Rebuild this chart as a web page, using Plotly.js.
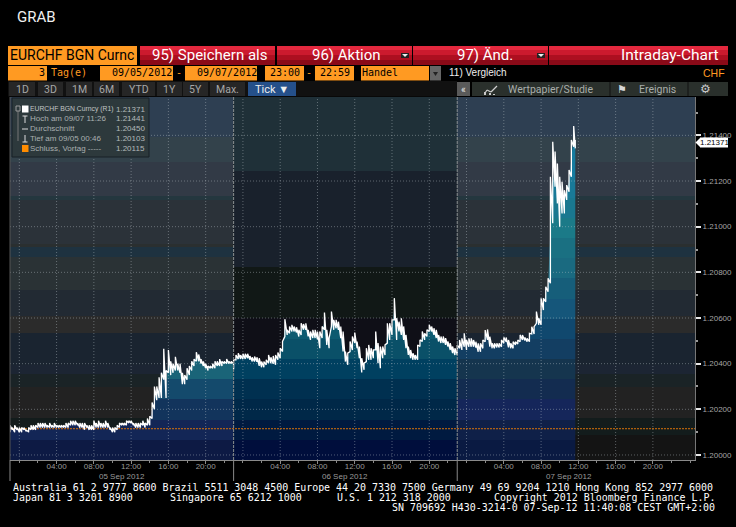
<!DOCTYPE html>
<html><head><meta charset="utf-8">
<script src="https://cdn.plot.ly/plotly-3.0.1.min.js"></script>
<style>html,body{margin:0;padding:0;background:#000}</style></head>
<body><div id="chart" style="width:736px;height:527px"></div>
<script>
const day1Hours=[0,.25,.5,.75,1,1.25,1.5,1.75,2,2.25,2.5,2.75,3,3.25,3.5,3.75,4,4.25,4.5,4.75,5,5.25,5.5,5.75,6,6.25,6.5,6.75,7,7.25,7.5,7.75,8,8.25,8.5,8.75,9,9.25,9.5,9.75,10,10.25,10.5,10.75,11,11.25,11.5,11.75,12,12.25,12.5,12.75,13,13.25,13.5,13.75,14,14.25,14.5,14.75,15,15.25,15.5,15.75,16,16.25,16.5,16.75,17,17.25,17.5,17.75,18,18.25,18.5,18.75,19,19.25,19.5,19.75,20,20.25,20.5,20.75,21,21.25,21.5,21.75,22,22.25,22.5,22.75,23,23.25,23.5,23.75,24];
const day1High=[1.2013,1.2012,1.2013,1.2012,1.2012,1.2012,1.2012,1.2011,1.2012,1.2013,1.2013,1.2013,1.2014,1.2014,1.2014,1.2014,1.2013,1.2014,1.2013,1.2014,1.2013,1.2013,1.2013,1.2013,1.2014,1.2014,1.2015,1.2015,1.2015,1.2014,1.2014,1.2014,1.2014,1.2013,1.2013,1.2013,1.2015,1.2014,1.2015,1.2014,1.2014,1.2015,1.2014,1.2012,1.2012,1.2012,1.2013,1.2014,1.2014,1.2014,1.2015,1.2015,1.2015,1.2014,1.2014,1.2014,1.2014,1.2015,1.2014,1.2016,1.2017,1.2023,1.2030,1.2030,1.2034,1.2036,1.20465,1.2037,1.2046,1.2041,1.2040,1.2043,1.2040,1.2040,1.2036,1.2035,1.2038,1.2039,1.2041,1.2042,1.2045,1.2044,1.2042,1.2041,1.2040,1.2039,1.2039,1.2040,1.2041,1.2041,1.2042,1.2041,1.2041,1.2042,1.2041,1.2041,1.2041];
const day1Low=[1.2010,1.2011,1.2010,1.2011,1.2010,1.2010,1.2011,1.20103,1.2010,1.2011,1.2011,1.2011,1.2012,1.2012,1.2012,1.2012,1.2012,1.2012,1.2012,1.2012,1.2012,1.2012,1.2012,1.2012,1.2012,1.2012,1.2013,1.2013,1.2013,1.2013,1.2012,1.2012,1.2011,1.2012,1.2011,1.2011,1.2011,1.2012,1.2012,1.2012,1.2012,1.2012,1.2012,1.2011,1.2010,1.2010,1.2011,1.2012,1.2013,1.2013,1.2013,1.2014,1.2014,1.2013,1.2012,1.2012,1.2012,1.2013,1.2012,1.2013,1.2013,1.2016,1.2020,1.2024,1.2025,1.2025,1.2033,1.2025,1.2036,1.2035,1.2036,1.2037,1.2037,1.2036,1.2031,1.2031,1.2033,1.2035,1.2037,1.2039,1.2041,1.2041,1.2040,1.2039,1.2038,1.2037,1.2038,1.2038,1.2038,1.2039,1.2039,1.2039,1.2040,1.2040,1.2040,1.2040,1.2040];
const day2Hours=[24,24.25,24.5,24.75,25,25.25,25.5,25.75,26,26.25,26.5,26.75,27,27.25,27.5,27.75,28,28.25,28.5,28.75,29,29.25,29.5,29.75,30,30.25,30.5,30.75,31,31.25,31.5,31.75,32,32.25,32.5,32.75,33,33.25,33.5,33.75,34,34.25,34.5,34.75,35,35.25,35.5,35.75,36,36.25,36.5,36.75,37,37.25,37.5,37.75,38,38.25,38.5,38.75,39,39.25,39.5,39.75,40,40.25,40.5,40.75,41,41.25,41.5,41.75,42,42.25,42.5,42.75,43,43.25,43.5,43.75,44,44.25,44.5,44.75,45,45.25,45.5,45.75,46,46.25,46.5,46.75,47,47.25,47.5,47.75,48];
const day2High=[1.20417,1.20438,1.20446,1.20438,1.20443,1.20443,1.20443,1.20434,1.20428,1.20431,1.20428,1.20424,1.20409,1.20409,1.20417,1.20438,1.20428,1.20434,1.20438,1.20449,1.20468,1.20497,1.20595,1.20548,1.20563,1.2057,1.20563,1.2056,1.20548,1.20577,1.20574,1.20577,1.20548,1.20541,1.20548,1.20548,1.20541,1.20541,1.20563,1.20624,1.20548,1.20512,1.20628,1.20592,1.20592,1.20584,1.20563,1.20541,1.20453,1.20446,1.20497,1.20519,1.20536,1.20497,1.20475,1.20424,1.20402,1.20468,1.20482,1.20468,1.2046,1.20541,1.2049,1.20475,1.20475,1.20482,1.20577,1.20577,1.20592,1.20687,1.20599,1.20584,1.20599,1.20563,1.20526,1.20475,1.2046,1.20446,1.20438,1.20482,1.20504,1.20541,1.20533,1.20548,1.2057,1.20563,1.20555,1.20548,1.20526,1.20519,1.20519,1.20512,1.20497,1.2049,1.20475,1.20468,1.20468];
const day2Low=[1.20376,1.20417,1.2042,1.2042,1.2042,1.2042,1.20424,1.20417,1.20409,1.20409,1.20408,1.2039,1.20384,1.20384,1.20395,1.20402,1.20402,1.20399,1.20395,1.20417,1.20424,1.20453,1.20519,1.20526,1.20533,1.20541,1.20541,1.20536,1.20519,1.20526,1.20548,1.20548,1.20519,1.20504,1.20512,1.20512,1.20507,1.20468,1.20512,1.20548,1.20482,1.20468,1.20563,1.20548,1.20555,1.20548,1.20512,1.20453,1.20409,1.20395,1.20453,1.2046,1.2049,1.20468,1.20424,1.20361,1.20373,1.20409,1.20417,1.20417,1.20424,1.2046,1.20402,1.2038,1.20424,1.20438,1.2049,1.20504,1.20526,1.20592,1.20504,1.20541,1.20526,1.20504,1.20468,1.20438,1.20424,1.20417,1.20417,1.20417,1.20475,1.20497,1.20504,1.20519,1.20541,1.20541,1.20526,1.20512,1.20497,1.2049,1.2049,1.20482,1.20475,1.2046,1.20446,1.20438,1.20438];
const day3Hours=[48,48.25,48.5,48.75,49,49.25,49.5,49.75,50,50.25,50.5,50.75,51,51.25,51.5,51.75,52,52.25,52.5,52.75,53,53.25,53.5,53.75,54,54.25,54.5,54.75,55,55.25,55.5,55.75,56,56.25,56.5,56.75,57,57.25,57.5,57.75,58,58.25,58.5,58.75,59,59.25,59.5,59.75,60,60.25,60.5,60.67];
const day3High=[1.20482,1.20504,1.20511,1.20533,1.20504,1.20511,1.20511,1.20504,1.20496,1.20489,1.20489,1.20504,1.20547,1.2055,1.20518,1.20489,1.20489,1.20489,1.20489,1.20504,1.20515,1.20515,1.20504,1.20489,1.20496,1.20496,1.20504,1.20526,1.20526,1.20515,1.20511,1.20533,1.20562,1.20562,1.20628,1.20599,1.20686,1.20686,1.20737,1.20774,1.21219,1.21372,1.21329,1.21277,1.21219,1.21197,1.2116,1.21182,1.21248,1.2138,1.21441,1.2138];
const day3Low=[1.20438,1.20467,1.2046,1.20474,1.2046,1.20474,1.20474,1.20474,1.20471,1.20452,1.20452,1.20467,1.20496,1.20504,1.20474,1.20467,1.20467,1.20471,1.20471,1.20474,1.20489,1.20496,1.20471,1.20467,1.20467,1.20482,1.20486,1.20496,1.20504,1.20501,1.20496,1.20496,1.2053,1.2053,1.20577,1.2057,1.2057,1.20635,1.20671,1.20715,1.20752,1.21015,1.21175,1.21102,1.21,1.21058,1.21058,1.21117,1.21153,1.21219,1.2135,1.21343];
const previousClose=1.20115, lastPrice=1.21371;
const labelHours=[5,9,13,17,21,29,33,37,41,45,53,57,61,65,69];
const labelTexts=["04:00","08:00","12:00","16:00","20:00","04:00","08:00","12:00","16:00","20:00","04:00","08:00","12:00","16:00","20:00"];
const minorHours=[1,3,7,11,15,19,23,25,27,31,35,39,43,47,49,51,55,59,63,67,71,73];
const gridHours=[1,5,9,13,17,21,25,29,33,37,41,45,49,53,57,61,65,69];
const dayStarts=[0,24,48];
const gridPrices=[1.200,1.202,1.204,1.206,1.208,1.210,1.212,1.214];
const dateLabels=[["05 Sep 2012",122],["06 Sep 2012",345],["07 Sep 2012",569]];
const legendRows=[["EURCHF BGN Curncy (R1)","1.21371"],["Hoch am 09/07 11:26","1.21441"],["Durchschnitt","1.20450"],["Tief am 09/05 00:46","1.20103"],["Schluss, Vortag -----","1.20115"]];
const tabs=[["1D",9,35],["3D",38,63],["1M",66,92],["6M",94,119],["YTD",122,155],["1Y",157,182],["5Y",183,208],["Max.",210,245]];
const stripesOuter=[[97,137,"#2e3f52"],[137,162,"#33424b"],[162,196,"#323a46"],[196,200,"#24373f"],[200,244,"#2b3239"],[244,247,"#2a2f30"],[247,257,"#1e3240"],[257,290,"#2a3235"],[290,316,"#222a33"],[316,333,"#2b2b2b"],[333,365,"#1a2430"],[365,374,"#1c2533"],[374,387,"#1a2326"],[387,418,"#222222"],[418,435,"#131c1c"],[435,460,"#141414"]];
const stripesMiddle=[[97,171,"#1f3038"],[171,267,"#19212c"],[267,318,"#111816"],[318,460,"#0f0f17"]];
const fillDay1=["#0d1a44","#132656","#12345c","#144a6c","#1a6478","#1c6c80","#1c6c80"];
const fillDay2=["#000e3c","#001a40","#002848","#003050","#004060","#0a5068","#0d5a70"];
const fillDay3=["#0a1a42","#0f2048","#15265a","#132c50","#15354e","#133e62","#10486e","#15567a","#165e7a","#1a6a80","#1a7082","#1b7a88","#1a7890","#197a98","#157ca0","#157ca0","#157ca0","#157ca0"];

const L=10,R=695,T=97,B=460;
const X=p=>(p-L)/(R-L), Y=p=>(B-p)/(B-T);
const yMin=1.19978,yMax=1.21568,SANS="Liberation Sans, sans-serif",MONO="DejaVu Sans Mono, monospace";
function mid(h,l){return h.map((v,i)=>(v+l[i])/2);}
function steps(cols){const s=[];const n=18;for(let i=0;i<n;i++){const c=cols[Math.min(i,cols.length-1)];s.push([i/n,c],[(i+1)/n,c]);}return s;}
function fillTrace(x,h,l,cols){return {x,y:mid(h,l),type:'scatter',mode:'lines',line:{width:0},fill:'tozeroy',hoverinfo:'skip',showlegend:false,fillgradient:{type:'vertical',colorscale:steps(cols),start:yMin,stop:yMax}};}
function zig(x,h,l){const xs=[],ys=[];x.forEach((t,i)=>{xs.push(t,t);ys.push(l[i],h[i]);});return [xs,ys];}
const [zx1,zy1]=zig(day1Hours,day1High,day1Low),[zx2,zy2]=zig(day2Hours,day2High,day2Low),[zx3,zy3]=zig(day3Hours,day3High,day3Low);
const gx=[],gy=[];
gridHours.forEach(t=>{gx.push(t,t,null);gy.push(yMin,yMax,null);});
gridPrices.forEach(p=>{gx.push(0,73.52,null);gy.push(p,p,null);});
const traces=[
 fillTrace(day1Hours,day1High,day1Low,fillDay1),
 fillTrace(day2Hours,day2High,day2Low,fillDay2),
 fillTrace(day3Hours,day3High,day3Low,fillDay3),
 {x:gx,y:gy,type:'scatter',mode:'lines',line:{color:'rgba(190,200,205,.42)',width:1,dash:'1px 2px'},hoverinfo:'skip',showlegend:false},
 {x:[0,73.52],y:[previousClose,previousClose],type:'scatter',mode:'lines',line:{color:'#d9730a',width:1,dash:'2px 1px'},hoverinfo:'skip',showlegend:false},
 {x:zx1.concat(zx2,zx3),y:zy1.concat(zy2,zy3),type:'scatter',mode:'lines',line:{color:'#ffffff',width:1.3},name:'EURCHF',showlegend:false}
];
const shapes=[],ann=[];
function rect(x0,x1,y0,y1,c,layer,lc){shapes.push({type:'rect',xref:'paper',yref:'paper',x0:X(x0),x1:X(x1),y0:Y(y1),y1:Y(y0),fillcolor:c,line:{width:lc?1:0,color:lc||c},layer:layer||'above'});}
function seg(x0,y0,x1,y1,c,w,d){shapes.push({type:'line',xref:'paper',yref:'paper',x0:X(x0),x1:X(x1),y0:Y(y0),y1:Y(y1),line:{color:c,width:w||1,dash:d||'solid'},layer:'above'});}
function tri(a,b,c,col){const P=q=>X(q[0])+' '+Y(q[1]);shapes.push({type:'path',xref:'paper',yref:'paper',path:'M'+P(a)+' L'+P(b)+' L'+P(c)+' Z',fillcolor:col,line:{width:0},layer:'above'});}
function note(x,y,t,size,color,anchor,fam){ann.push({xref:'paper',yref:'paper',x:X(x),y:Y(y),text:t,showarrow:false,xanchor:anchor||'left',yanchor:'middle',font:{size,color,family:fam||SANS},borderpad:0,borderwidth:0});}
stripesOuter.forEach(s=>{rect(10,233.5,s[0],s[1],s[2],'below');rect(457,695,s[0],s[1],s[2],'below');});
stripesMiddle.forEach(s=>rect(233.5,457,s[0],s[1],s[2],'below'));
dayStarts.forEach((h,i)=>{const p=L+h*(R-L)/73.52;seg(p,97,p,460,i==0?'#555':'#8a8f90',1,i==0?'solid':'3px 1px');seg(p,460,p,481,'#8a8a8a',1);});
dateLabels.forEach(d=>note(d[1],476,d[0],8,'#9a9a9a','center'));
note(17,17.5,'GRAB',15,'#f0f0f0','left','Roboto');
rect(8,137,46,65,'#ff9a22');note(10,55.5,'EURCHF BGN Curnc',14,'#000','left','Roboto');
[[140,275],[277,412],[413,548],[549,728]].forEach(b=>{rect(b[0],b[1],46,50,'#e4283e');rect(b[0],b[1],50,55,'#cc1a2e');rect(b[0],b[1],55,60,'#ad0f20');rect(b[0],b[1],60,65,'#8a0a18');});
note(152,55.5,'95) Speichern als',15,'#fff','left','Roboto');
note(312,55.5,'96) Aktion',15,'#fff','left','Roboto');
note(457,55.5,'97) Änd.',15,'#fff','left','Roboto');
note(719,55.5,'Intraday-Chart',15.5,'#fff','right','Roboto');
[[405,55],[541,55]].forEach(a=>{rect(a[0]-4,a[0]+4,a[1]-2,a[1]+3,'#222');tri([a[0]-3,a[1]-1],[a[0]+3,a[1]-1],[a[0],a[1]+2],'#eee');});
[[8,47],[100,173],[185,257],[265,304],[315,354],[361,429]].forEach(b=>rect(b[0],b[1],66,80.5,'#ff9a22'));
note(45,72.5,'3',10,'#000','right',MONO);
note(51,72.5,'Tag(e)',10,'#ff9a22','left',MONO);
note(172,72.5,'09/05/2012',10,'#000','right',MONO);
note(257,72.5,'09/07/2012',10,'#000','right',MONO);
note(179,72.5,'-',10,'#ff9a22','center',MONO);
note(284.5,72.5,'23:00',10,'#000','center',MONO);
note(309,72.5,'-',10,'#ff9a22','center',MONO);
note(334.5,72.5,'22:59',10,'#000','center',MONO);
note(362,72.5,'Handel',10,'#000','left',MONO);
rect(430,441,66,80.5,'#666');tri([433,72],[438,72],[435.5,76],'#222');
note(449,72.5,'11) Vergleich',10,'#eee','left',SANS);
note(725,72.5,'CHF',10.5,'#ff9a22','right',SANS);
rect(8,457,81,96.5,'#111');
tabs.forEach(t=>{rect(t[1],t[2],82,96,'#262626');note((t[1]+t[2])/2,89.5,t[0],10.5,'#a6a6a6','center','Roboto');});
rect(248,296,82,96,'#25508a');note(272,89.5,'Tick ▼',11,'#eee','center','Roboto');
rect(457,470,82,96,'#5a5a5a');note(463.5,89,'«',10,'#eee','center','Roboto');
rect(472,728,82,96,'#2a302c');seg(610,82,610,96,'#111');seg(688,82,688,96,'#111');
note(508,89.5,'Wertpapier/Studie',10.5,'#a9aeaa','left','Roboto');
note(639,89.5,'Ereignis',10.5,'#a9aeaa','left','Roboto');
note(705,89,'⚙',12,'#c8c8c8','center','DejaVu Sans');
note(622,89,'⚑',11,'#d8d8d8','center','DejaVu Sans');
[[485,93,487,90],[487,90,491,92],[491,92,497,86]].forEach(l=>seg(l[0],l[1],l[2],l[3],'#d0d0d0',1.2));
[[484,92],[489,93],[493,94]].forEach(l=>rect(l[0],l[0]+2,l[1],95,'#c8c8c8'));
rect(12,149,98,157,'#2d393c',null,'#182026');
legendRows.forEach((r,i)=>{const y=109+i*9.8;note(30,y,r[0],i==0?6.8:8,i==0?'#c2c6c6':'#aab0b0','left');note(145,y,r[1],8,'#b4baba','right');});
seg(18,109,18,141,'#777');rect(16,20,106,111,'#2d393c',null,'#999');
rect(22,28.5,105.5,112.5,'#ffffff');rect(22,28.5,145,152,'#ff8c00');
seg(25,116,25,123,'#ddd');seg(22.5,116,27.5,116,'#ddd');
seg(22,129,28,129,'#ddd');seg(25,135,25,142,'#ddd');seg(22.5,142,27.5,142,'#ddd');
rect(700,728,137.5,147.5,'#ffffff');tri([695.5,142.5],[700,138],[700,147],'#fff');
note(714,142.5,'1.21371',8,'#000','center');
const F=(x,y,t,a)=>note(x,y,t,9.95,'#ffffff',a||'left',MONO);
F(13,488,'Australia 61 2 9777 8600 Brazil 5511 3048 4500 Europe 44 20 7330 7500 Germany 49 69 9204 1210 Hong Kong 852 2977 6000');
F(13,497.5,'Japan 81 3 3201 8900');F(170,497.5,'Singapore 65 6212 1000');F(337,497.5,'U.S. 1 212 318 2000');F(715,497.5,'Copyright 2012 Bloomberg Finance L.P.','right');
F(715,507,'SN 709692 H430-3214-0 07-Sep-12 11:40:08 CEST GMT+2:00','right');
const layout={width:736,height:527,margin:{l:L,r:736-R,t:T,b:527-B,pad:0},paper_bgcolor:'#000',plot_bgcolor:'rgba(0,0,0,0)',showlegend:false,hovermode:false,
 xaxis:{range:[0,73.52],tickmode:'array',tickvals:labelHours,ticktext:labelTexts,ticks:'outside',ticklen:3,tickcolor:'#8a8a8a',ticklabelstandoff:-5,tickfont:{family:SANS,size:8,color:'#9a9a9a'},showgrid:false,zeroline:false,showline:true,linecolor:'#8a8a8a',linewidth:1,minor:{tickmode:'array',tickvals:minorHours,ticks:'outside',ticklen:2,tickcolor:'#8a8a8a',showgrid:false}},
 yaxis:{range:[yMin,yMax],side:'right',dtick:0.002,tick0:1.2,tickformat:'.5f',ticks:'outside',ticklen:5,tickwidth:2,tickcolor:'#e8e8e8',tickfont:{family:SANS,size:8,color:'#a4a4a4'},showgrid:false,zeroline:false,showline:true,linecolor:'#777',linewidth:1,minor:{dtick:0.001,ticks:'outside',ticklen:2,tickcolor:'#9a9a9a',showgrid:false}},
 shapes,annotations:ann};
Plotly.newPlot('chart',traces,layout,{staticPlot:true,displayModeBar:false});
</script></body></html>
